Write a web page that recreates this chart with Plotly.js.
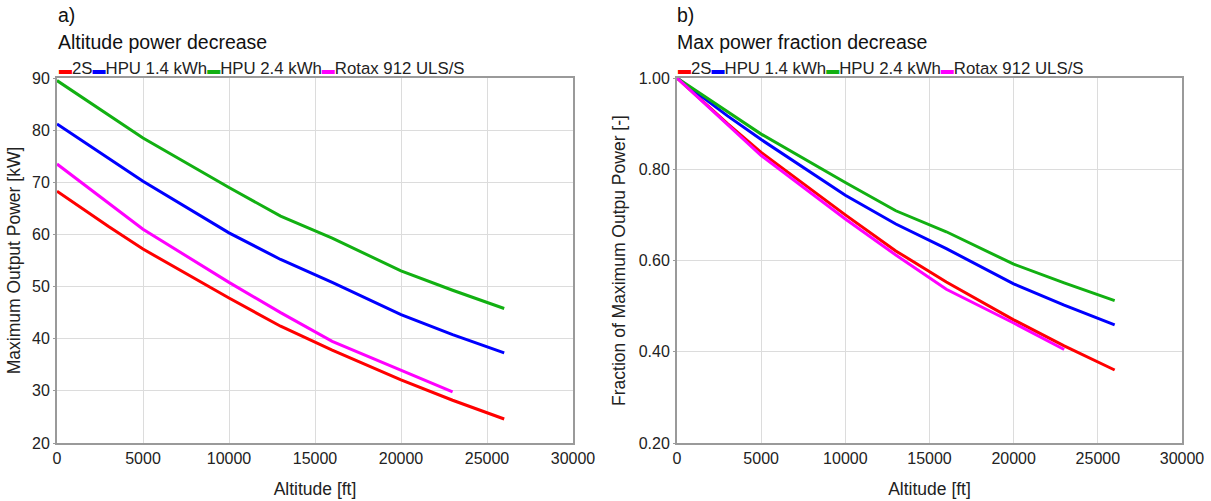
<!DOCTYPE html>
<html>
<head>
<meta charset="utf-8">
<script src="https://cdn.plot.ly/plotly-3.0.1.min.js"></script>
<style>html,body{margin:0;padding:0;background:#fff;}#chart{width:1211px;height:501px;}</style>
</head>
<body>
<div id="chart"></div>
<script>
// ---- data ----
const seriesNames = ["2S", "HPU 1.4 kWh", "HPU 2.4 kWh", "Rotax 912 ULS/S"];
const seriesColors = ["#ff0000", "#0000ff", "#12b012", "#ff00ff"];

const altitude = [0, 3000, 5000, 10000, 13000, 16000, 20000, 23000, 26000];
const altitudeRotax = [0, 3000, 5000, 10000, 13000, 16000, 20000, 23000];

// a) Maximum output power [kW]
const power2S = [68.3, 61.5, 57.2, 47.8, 42.4, 37.8, 32.1, 28.2, 24.6];
const powerHPU14 = [81.2, 74.5, 70.2, 60.3, 55.2, 50.8, 44.6, 40.8, 37.3];
const powerHPU24 = [89.5, 83.0, 78.5, 69.0, 63.5, 59.3, 53.0, 49.3, 45.8];
const powerRotax = [73.5, 66.0, 61.0, 50.8, 45.0, 39.5, 34.0, 29.8];

// b) Fraction of maximum output power [-]
const frac2S = [1.00, 0.900, 0.837, 0.700, 0.621, 0.553, 0.470, 0.413, 0.360];
const fracHPU14 = [1.00, 0.917, 0.865, 0.743, 0.680, 0.626, 0.549, 0.502, 0.459];
const fracHPU24 = [1.00, 0.927, 0.877, 0.771, 0.709, 0.663, 0.592, 0.551, 0.512];
const fracRotax = [1.00, 0.898, 0.830, 0.691, 0.612, 0.537, 0.463, 0.405];

const leftTicks = [20, 30, 40, 50, 60, 70, 80, 90];
const rightTicks = [0.20, 0.40, 0.60, 0.80, 1.00];
const xTicks = [0, 5000, 10000, 15000, 20000, 25000, 30000];

// ---- traces ----
const leftY = [power2S, powerHPU14, powerHPU24, powerRotax];
const rightY = [frac2S, fracHPU14, fracHPU24, fracRotax];
const xs = [altitude, altitude, altitude, altitudeRotax];

const traces = [];
for (let i = 0; i < seriesNames.length; i++) {
  traces.push({x: xs[i], y: leftY[i], type: "scatter", mode: "lines", name: seriesNames[i],
    line: {color: seriesColors[i], width: 3}, xaxis: "x", yaxis: "y", showlegend: false});
}
for (let i = 0; i < seriesNames.length; i++) {
  traces.push({x: xs[i], y: rightY[i], type: "scatter", mode: "lines", name: seriesNames[i],
    line: {color: seriesColors[i], width: 3}, xaxis: "x2", yaxis: "y2", showlegend: false});
}

const W = 1211, H = 501;
const font = "Liberation Sans, Arial, sans-serif";
const legendText = seriesNames.map((n, i) =>
  '<span style="color:' + seriesColors[i] + ';font-size:13px">▬</span>' + n).join("");

const txt = "#222";
const axisCommon = {
  showline: true, mirror: true, linecolor: "#9a9a9a", linewidth: 2,
  showgrid: true, gridcolor: "#dcdcdc", gridwidth: 1,
  zeroline: false, ticks: "", tickfont: {family: font, size: 16, color: txt},
  fixedrange: true
};
const axTitleFont = {family: font, size: 17.5, color: txt};

const plotTop = 78, plotBottom = 443;
const yDom = [1 - plotBottom / H, 1 - plotTop / H];

const layout = {
  width: W, height: H,
  margin: {l: 0, r: 0, t: 0, b: 0},
  paper_bgcolor: "#fff", plot_bgcolor: "#fff",
  showlegend: false,
  font: {family: font, size: 16, color: txt},
  xaxis: Object.assign({}, axisCommon, {
    domain: [57 / W, 573 / W], range: [0, 30000], tickvals: xTicks, ticktext: xTicks.map(String),
    title: {text: "Altitude [ft]", font: axTitleFont, standoff: 17},
    anchor: "y"
  }),
  yaxis: Object.assign({}, axisCommon, {
    domain: yDom, range: [20, 90], tickvals: leftTicks, ticktext: leftTicks.map(String),
    ticks: "outside", ticklen: 2, tickcolor: "#9a9a9a",
    title: {text: "Maximum Output Power [kW]", font: axTitleFont, standoff: 7},
    anchor: "x"
  }),
  xaxis2: Object.assign({}, axisCommon, {
    domain: [677 / W, 1182 / W], range: [0, 30000], tickvals: xTicks, ticktext: xTicks.map(String),
    title: {text: "Altitude [ft]", font: axTitleFont, standoff: 17},
    anchor: "y2"
  }),
  yaxis2: Object.assign({}, axisCommon, {
    domain: yDom, range: [0.2, 1.0], tickvals: rightTicks, ticktext: rightTicks.map(v => v.toFixed(2)),
    ticks: "outside", ticklen: 2, tickcolor: "#9a9a9a",
    title: {text: "Fraction of Maximum Outpu Power [-]", font: axTitleFont, standoff: 9},
    anchor: "x2"
  }),
  annotations: [
    {xref: "paper", yref: "paper", x: 56 / W, y: 1 - 15 / H, xanchor: "left", yanchor: "middle",
      text: "a)", showarrow: false, font: {family: font, size: 19.5, color: "#111"}},
    {xref: "paper", yref: "paper", x: 56 / W, y: 1 - 42 / H, xanchor: "left", yanchor: "middle",
      text: "Altitude power decrease", showarrow: false, font: {family: font, size: 19.5, color: "#111"}},
    {xref: "paper", yref: "paper", x: 675 / W, y: 1 - 15 / H, xanchor: "left", yanchor: "middle",
      text: "b)", showarrow: false, font: {family: font, size: 19.5, color: "#111"}},
    {xref: "paper", yref: "paper", x: 675 / W, y: 1 - 42 / H, xanchor: "left", yanchor: "middle",
      text: "Max power fraction decrease", showarrow: false, font: {family: font, size: 19.5, color: "#111"}},
    {xref: "paper", yref: "paper", x: 57 / W, y: 1 - 68 / H, xanchor: "left", yanchor: "middle",
      text: legendText, showarrow: false, font: {family: font, size: 16.8, color: txt}},
    {xref: "paper", yref: "paper", x: 676 / W, y: 1 - 68 / H, xanchor: "left", yanchor: "middle",
      text: legendText, showarrow: false, font: {family: font, size: 16.8, color: txt}}
  ]
};

Plotly.newPlot("chart", traces, layout, {displayModeBar: false, staticPlot: true});
</script>
</body>
</html>
